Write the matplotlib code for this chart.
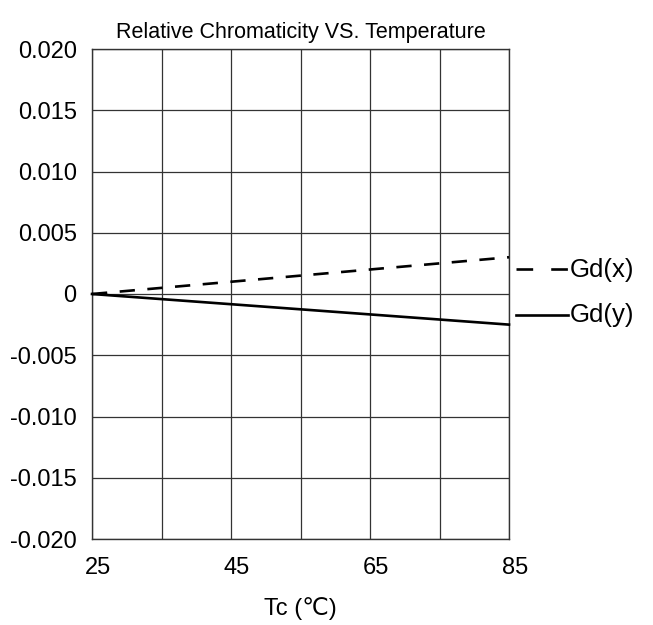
import matplotlib
matplotlib.use("Agg")
import matplotlib.pyplot as plt
import matplotlib.transforms as mtransforms
from matplotlib.lines import Line2D

plt.rcParams["font.family"] = ["Liberation Sans", "DejaVu Sans"]
plt.rcParams["lines.scale_dashes"] = False

# data
temp_c = [25, 85]
gd_x = [0.0, 0.003]
gd_y = [0.0, -0.0025]

x_ticks = [25, 45, 65, 85]
x_grid = [25, 35, 45, 55, 65, 75, 85]
y_ticks = [-0.020, -0.015, -0.010, -0.005, 0.0, 0.005, 0.010, 0.015, 0.020]
y_labels = ["-0.020", "-0.015", "-0.010", "-0.005", "0", "0.005", "0.010", "0.015", "0.020"]

fig = plt.figure(figsize=(6.53, 6.25), dpi=100)
ax = fig.add_axes([92 / 653, 1 - 539 / 625, (509 - 92) / 653, (539 - 49) / 625])

ax.set_xlim(25, 85)
ax.set_ylim(-0.020, 0.020)

for xv in x_grid:
    ax.axvline(xv, color="#333333", lw=0.9, zorder=1)
for yv in y_ticks:
    ax.axhline(yv, color="#333333", lw=0.9, zorder=1)

ax.plot(temp_c, gd_x, color="black", lw=1.9, dashes=(11, 9), zorder=3, clip_on=False)
ax.plot(temp_c, gd_y, color="black", lw=1.9, zorder=3, clip_on=False)

ax.set_xticks(x_ticks)
ax.set_yticks(y_ticks)
ax.set_yticklabels(y_labels)
ax.tick_params(length=0, labelsize=17, colors="black")
ax.tick_params(axis="x", pad=13)
ax.tick_params(axis="y", pad=11)
shift = mtransforms.ScaledTranslation(6 / 100, 0, fig.dpi_scale_trans)
for lab in ax.get_xticklabels():
    lab.set_transform(lab.get_transform() + shift)
for s in ax.spines.values():
    s.set_color("#333333")
    s.set_linewidth(1.0)

ax.set_xlabel("Tc (\u2103)", fontsize=17, labelpad=13)
ax.set_title("Relative Chromaticity VS. Temperature", fontsize=15.5, pad=8)

# legend drawn beside the right edge
fig.add_artist(Line2D([516 / 653, 568 / 653], [1 - 269 / 625, 1 - 269 / 625],
                      color="black", lw=1.9, dashes=(12, 13)))
fig.add_artist(Line2D([516 / 653, 568 / 653], [1 - 315 / 625, 1 - 315 / 625],
                      color="black", lw=1.9))
fig.text(570 / 653, 1 - 270 / 625, "Gd(x)", fontsize=18.5, va="center", ha="left")
fig.text(570 / 653, 1 - 315 / 625, "Gd(y)", fontsize=18.5, va="center", ha="left")

fig.savefig("out.png", dpi=100, facecolor="white")
